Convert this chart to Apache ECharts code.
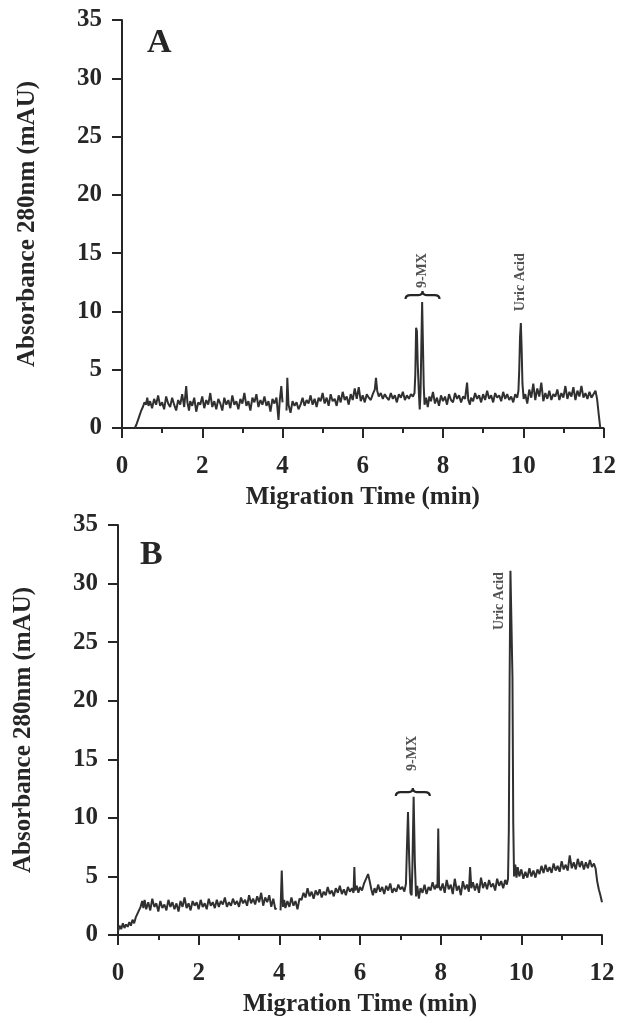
<!DOCTYPE html>
<html>
<head>
<meta charset="utf-8">
<script src="https://cdn.jsdelivr.net/npm/echarts@6/dist/echarts.min.js"></script>
<style>
html,body{margin:0;padding:0;background:#fff;}
#chart{width:619px;height:1023px;}
</style>
</head>
<body>
<div id="chart"></div>
<script>
// ---- Data ----
const xTicks = [0, 2, 4, 6, 8, 10, 12];
const yTicks = [0, 5, 10, 15, 20, 25, 30, 35];
const panelNames = ['A', 'B'];
const xTitle = 'Migration Time (min)';
const yTitle = 'Absorbance 280nm (mAU)';

// Panel A trace [time (min), absorbance (mAU)]
const traceA = [
[0.32,0],[0.36,0.3],[0.40,0.7],[0.44,1.1],[0.48,1.5],[0.52,1.8],[0.56,2.2],[0.60,2.0],[0.63,2.6],[0.66,1.9],
[0.70,2.3],[0.75,1.7],[0.80,2.5],[0.85,2.0],[0.90,2.8],[0.95,1.9],[1.00,2.2],[1.05,1.6],[1.10,2.7],[1.15,2.1],
[1.20,1.8],[1.25,2.6],[1.30,2.0],[1.35,1.5],[1.40,2.4],[1.45,2.0],[1.50,2.9],[1.55,1.8],[1.60,3.6],[1.63,2.2],
[1.67,1.5],[1.70,2.3],[1.75,1.9],[1.80,2.6],[1.85,1.4],[1.90,2.2],[1.95,2.0],[2.00,2.7],[2.05,1.7],[2.10,2.4],
[2.15,2.0],[2.20,3.0],[2.25,1.8],[2.30,2.3],[2.35,1.6],[2.40,2.5],[2.45,2.1],[2.50,1.5],[2.55,2.6],[2.60,2.0],
[2.65,2.4],[2.70,1.7],[2.75,2.8],[2.80,2.0],[2.85,2.3],[2.90,1.6],[2.95,2.5],[3.00,2.1],[3.05,3.0],[3.10,1.9],
[3.15,2.3],[3.20,1.5],[3.25,2.6],[3.30,2.2],[3.35,2.9],[3.40,1.8],[3.45,2.4],[3.50,2.0],[3.55,2.7],[3.60,1.9],
[3.65,2.3],[3.70,1.4],[3.75,2.5],[3.80,2.1],[3.85,2.6],[3.90,0.7],[3.93,2.3],[3.97,3.6],[4.00,2.2],[4.05,'-'],
[4.10,1.5],[4.12,4.3],[4.15,2.0],[4.20,1.3],[4.25,2.3],[4.30,1.9],[4.35,2.2],[4.40,1.6],[4.45,2.0],[4.50,2.6],
[4.55,1.9],[4.60,2.4],[4.65,2.1],[4.70,2.8],[4.75,2.0],[4.80,2.5],[4.85,1.8],[4.90,2.6],[4.95,2.3],[5.00,3.0],
[5.05,2.1],[5.10,2.6],[5.15,1.9],[5.20,2.9],[5.25,2.3],[5.30,2.5],[5.35,1.9],[5.40,2.8],[5.45,2.2],[5.50,3.1],
[5.55,2.4],[5.60,2.7],[5.65,2.0],[5.70,2.9],[5.75,2.4],[5.80,3.4],[5.85,2.5],[5.90,3.5],[5.95,2.3],[6.00,2.8],
[6.05,2.2],[6.10,2.9],[6.15,2.6],[6.20,2.4],[6.25,2.9],[6.30,3.3],[6.33,4.3],[6.36,3.2],[6.40,2.7],[6.45,3.0],
[6.50,2.5],[6.55,2.9],[6.60,2.6],[6.65,2.4],[6.70,3.0],[6.75,2.5],[6.80,2.8],[6.85,2.2],[6.90,2.9],[6.95,2.6],
[7.00,3.1],[7.05,2.4],[7.10,2.8],[7.15,2.5],[7.20,2.9],[7.25,2.7],[7.29,3.0],[7.31,4.6],[7.33,8.6],[7.35,8.3],
[7.37,5.5],[7.40,2.9],[7.42,1.6],[7.44,3.0],[7.46,7.0],[7.48,10.8],[7.50,7.2],[7.52,3.6],[7.54,2.0],[7.58,2.6],
[7.62,1.8],[7.66,2.7],[7.70,2.3],[7.75,3.1],[7.80,2.1],[7.85,2.6],[7.90,1.9],[7.95,2.8],[8.00,2.3],[8.05,2.7],
[8.10,2.0],[8.15,2.9],[8.20,2.4],[8.25,2.2],[8.30,3.0],[8.35,2.5],[8.40,2.8],[8.45,2.2],[8.50,2.7],[8.55,2.5],
[8.60,3.9],[8.63,2.4],[8.67,2.0],[8.70,2.6],[8.75,2.3],[8.80,3.0],[8.85,2.5],[8.90,2.8],[8.95,2.2],[9.00,2.9],
[9.05,2.4],[9.10,3.2],[9.15,2.5],[9.20,2.8],[9.25,2.2],[9.30,3.0],[9.35,2.6],[9.40,2.8],[9.45,2.3],[9.50,3.1],
[9.55,2.5],[9.60,2.9],[9.65,2.4],[9.70,2.7],[9.75,2.2],[9.80,2.9],[9.85,2.6],[9.88,3.2],[9.90,5.0],[9.92,7.8],
[9.94,9.0],[9.96,6.8],[9.98,3.8],[10.01,2.5],[10.05,2.9],[10.10,2.1],[10.15,3.3],[10.20,2.6],[10.25,3.8],[10.30,2.4],
[10.35,3.4],[10.40,2.7],[10.45,3.9],[10.50,2.3],[10.55,3.0],[10.60,2.5],[10.65,3.2],[10.70,2.4],[10.75,2.9],[10.80,2.7],
[10.85,3.3],[10.90,2.4],[10.95,3.0],[11.00,2.6],[11.05,3.6],[11.10,2.5],[11.15,3.1],[11.20,2.7],[11.25,3.5],[11.30,2.4],
[11.35,3.2],[11.40,2.7],[11.45,3.6],[11.50,2.6],[11.55,3.0],[11.60,2.5],[11.65,3.1],[11.70,2.6],[11.75,2.9],[11.80,3.2],
[11.84,2.5],[11.88,1.2],[11.92,0]
];

// Panel B trace [time (min), absorbance (mAU)]
const traceB = [
[0.00,0.3],[0.04,0.8],[0.08,0.5],[0.12,1.0],[0.16,0.6],[0.20,0.9],[0.24,0.7],[0.28,1.1],[0.32,0.8],[0.36,1.3],
[0.40,1.0],[0.44,1.5],[0.48,1.8],[0.52,2.1],[0.56,2.4],[0.60,2.9],[0.63,2.3],[0.66,3.0],[0.70,2.2],[0.75,2.8],
[0.80,2.1],[0.85,3.1],[0.90,2.4],[0.95,2.7],[1.00,2.0],[1.05,2.9],[1.10,2.3],[1.15,2.6],[1.20,2.1],[1.25,3.0],
[1.30,2.4],[1.35,2.8],[1.40,2.2],[1.45,2.7],[1.50,2.0],[1.55,2.9],[1.60,2.4],[1.65,3.2],[1.70,2.3],[1.75,2.7],
[1.80,2.1],[1.85,2.9],[1.90,2.5],[1.95,2.8],[2.00,2.2],[2.05,3.0],[2.10,2.4],[2.15,2.7],[2.20,2.2],[2.25,3.1],
[2.30,2.5],[2.35,2.8],[2.40,2.3],[2.45,3.0],[2.50,2.4],[2.55,2.9],[2.60,2.6],[2.65,3.2],[2.70,2.4],[2.75,2.8],
[2.80,2.5],[2.85,3.1],[2.90,2.6],[2.95,2.9],[3.00,2.4],[3.05,3.2],[3.10,2.7],[3.15,3.0],[3.20,2.5],[3.25,3.4],
[3.30,2.7],[3.35,3.1],[3.40,2.6],[3.45,3.3],[3.50,2.8],[3.55,3.6],[3.60,2.5],[3.65,3.2],[3.70,2.8],[3.75,3.4],
[3.80,2.4],[3.85,3.1],[3.90,2.2],[3.93,2.3],[3.97,'-'],[4.03,2.1],[4.06,5.5],[4.09,2.4],[4.12,3.0],[4.15,2.3],
[4.20,2.9],[4.25,2.4],[4.30,3.2],[4.35,2.5],[4.40,2.9],[4.45,2.2],[4.50,3.1],[4.55,3.0],[4.60,3.6],[4.65,3.2],
[4.70,4.0],[4.75,3.3],[4.80,3.7],[4.85,3.1],[4.90,3.8],[4.95,3.4],[5.00,3.9],[5.05,3.2],[5.10,3.7],[5.15,3.4],
[5.20,4.1],[5.25,3.5],[5.30,3.8],[5.35,3.3],[5.40,4.0],[5.45,3.6],[5.50,4.2],[5.55,3.5],[5.60,3.9],[5.65,3.4],
[5.70,4.1],[5.75,3.7],[5.80,4.0],[5.84,3.6],[5.86,5.8],[5.88,3.8],[5.92,4.2],[5.96,3.6],[6.00,4.1],[6.05,3.8],
[6.10,4.4],[6.15,4.8],[6.20,5.2],[6.24,4.6],[6.28,3.9],[6.32,3.4],[6.36,4.0],[6.40,3.6],[6.45,4.3],[6.50,3.7],
[6.55,4.1],[6.60,3.5],[6.65,4.2],[6.70,3.8],[6.75,4.4],[6.80,3.6],[6.85,4.0],[6.90,3.7],[6.95,4.3],[7.00,3.9],
[7.05,4.1],[7.10,3.7],[7.14,4.4],[7.16,7.0],[7.19,10.5],[7.22,6.5],[7.25,3.6],[7.28,3.4],[7.30,6.0],[7.33,11.8],
[7.36,6.2],[7.39,3.3],[7.42,4.2],[7.46,3.1],[7.50,4.0],[7.55,3.6],[7.60,4.3],[7.65,3.5],[7.70,4.1],[7.75,3.8],
[7.80,4.5],[7.85,3.9],[7.90,4.3],[7.92,4.0],[7.94,9.1],[7.96,4.2],[8.00,3.8],[8.05,4.4],[8.10,3.6],[8.15,4.7],
[8.20,3.9],[8.25,4.3],[8.30,3.5],[8.35,4.8],[8.40,3.8],[8.45,4.2],[8.50,3.4],[8.55,4.6],[8.60,3.9],[8.65,4.3],
[8.70,3.7],[8.73,5.8],[8.76,4.0],[8.80,4.5],[8.85,3.8],[8.90,4.4],[8.95,3.6],[9.00,4.9],[9.05,4.0],[9.10,4.5],
[9.15,3.9],[9.20,4.7],[9.25,4.1],[9.30,4.4],[9.35,3.8],[9.40,4.8],[9.45,4.2],[9.50,4.6],[9.55,4.0],[9.60,4.7],
[9.64,4.3],[9.67,4.8],[9.69,9.0],[9.71,22.0],[9.73,31.1],[9.76,31.0],[9.78,22.0],[9.80,9.5],[9.82,5.0],[9.85,6.0],
[9.88,4.9],[9.91,5.8],[9.95,5.0],[10.00,5.6],[10.05,4.8],[10.10,5.4],[10.15,4.9],[10.20,5.7],[10.25,5.0],[10.30,5.5],
[10.35,4.9],[10.40,5.6],[10.45,5.2],[10.50,5.9],[10.55,5.3],[10.60,6.0],[10.65,5.4],[10.70,5.8],[10.75,5.3],[10.80,6.1],
[10.85,5.5],[10.90,5.9],[10.95,5.4],[11.00,6.3],[11.05,5.6],[11.10,6.0],[11.15,5.5],[11.20,6.8],[11.25,5.7],[11.30,6.2],
[11.35,5.6],[11.40,6.5],[11.45,5.8],[11.50,6.3],[11.55,5.6],[11.60,6.2],[11.65,5.7],[11.70,6.4],[11.75,5.8],[11.80,6.1],
[11.84,5.7],[11.88,4.6],[11.92,3.9],[11.96,3.4],[12.00,2.8]
];

// Peak annotations: [text, time, absorbance at label centre]
const peakLabelsA = [['9-MX', 7.49, 13.5], ['Uric Acid', 9.94, 12.5]];
const peakLabelsB = [['9-MX', 7.31, 15.5], ['Uric Acid', 9.45, 28.5]];
// Brace (grouping the two 9-MX peaks): [time, absorbance] of brace centre
const braceA = [[7.49, 11.4]];
const braceB = [[7.31, 12.2]];

// ---- Styling ----
const INK = '#262626';
const FONT = 'Liberation Serif';
const BRACE_PATH = 'M-17,4 Q-17,0 -12,0 L-4,0 Q0,0 0,-4 Q0,0 4,0 L12,0 Q17,0 17,4';

function xAxisCfg(gridIndex) {
  return {
    type: 'value', gridIndex: gridIndex, min: xTicks[0], max: xTicks[xTicks.length - 1], interval: 2,
    name: xTitle, nameLocation: 'middle', nameGap: 57,
    nameTextStyle: { fontFamily: FONT, fontWeight: 'bold', fontSize: 25, color: INK },
    axisLine: { show: true, onZero: true, lineStyle: { color: INK, width: 2 } },
    axisTick: { show: true, inside: false, length: 10, lineStyle: { color: INK, width: 2 } },
    minorTick: { show: true, splitNumber: 2, length: 5, lineStyle: { color: INK, width: 2 } },
    axisLabel: { fontFamily: FONT, fontWeight: 'bold', fontSize: 25, color: INK, margin: 26 },
    splitLine: { show: false }, minorSplitLine: { show: false }
  };
}
function yAxisCfg(gridIndex) {
  return {
    type: 'value', gridIndex: gridIndex, min: yTicks[0], max: yTicks[yTicks.length - 1], interval: 5,
    name: yTitle, nameLocation: 'middle', nameGap: 82, nameRotate: 90,
    nameTextStyle: { fontFamily: FONT, fontWeight: 'bold', fontSize: 25, color: INK },
    axisLine: { show: true, lineStyle: { color: INK, width: 2 } },
    axisTick: { show: true, inside: false, length: 10, lineStyle: { color: INK, width: 2 } },
    axisLabel: { fontFamily: FONT, fontWeight: 'bold', fontSize: 25, color: INK, margin: 20 },
    splitLine: { show: false }
  };
}
function traceSeries(data, idx) {
  return {
    type: 'line', xAxisIndex: idx, yAxisIndex: idx, data: data,
    showSymbol: false, symbol: 'none', connectNulls: false,
    lineStyle: { color: '#303030', width: 2 }, silent: true, z: 3
  };
}
function labelSeries(labels, idx) {
  return {
    type: 'scatter', xAxisIndex: idx, yAxisIndex: idx, symbolSize: 1,
    itemStyle: { color: 'rgba(0,0,0,0)' }, silent: true, z: 5,
    data: labels.map(l => ({ name: l[0], value: [l[1], l[2]] })),
    label: {
      show: true, formatter: '{b}', position: 'inside', rotate: 90,
      align: 'center', verticalAlign: 'middle',
      fontFamily: FONT, fontWeight: 'bold', fontSize: 14, color: INK
    }
  };
}
function braceSeries(data, idx) {
  return {
    type: 'custom', xAxisIndex: idx, yAxisIndex: idx, data: data, silent: true, z: 5,
    renderItem: function (params, api) {
      const p = api.coord([api.value(0), api.value(1)]);
      return {
        type: 'path', x: p[0], y: p[1],
        shape: { pathData: BRACE_PATH },
        style: { fill: 'none', stroke: INK, lineWidth: 2.2 }
      };
    }
  };
}

const chart = echarts.init(document.getElementById('chart'), null, { renderer: 'canvas' });
chart.setOption({
  animation: false,
  backgroundColor: '#ffffff',
  title: [
    { text: panelNames[0], left: 142, top: 21, textStyle: { fontFamily: FONT, fontWeight: 'bold', fontSize: 34, color: INK } },
    { text: panelNames[1], left: 135, top: 533, textStyle: { fontFamily: FONT, fontWeight: 'bold', fontSize: 34, color: INK } }
  ],
  grid: [
    { left: 122, top: 20, width: 484, height: 408 },
    { left: 118, top: 525, width: 484, height: 410 }
  ],
  xAxis: [xAxisCfg(0), xAxisCfg(1)],
  yAxis: [yAxisCfg(0), yAxisCfg(1)],
  series: [
    traceSeries(traceA, 0), traceSeries(traceB, 1),
    labelSeries(peakLabelsA, 0), labelSeries(peakLabelsB, 1),
    braceSeries(braceA, 0), braceSeries(braceB, 1)
  ]
});
</script>
</body>
</html>
